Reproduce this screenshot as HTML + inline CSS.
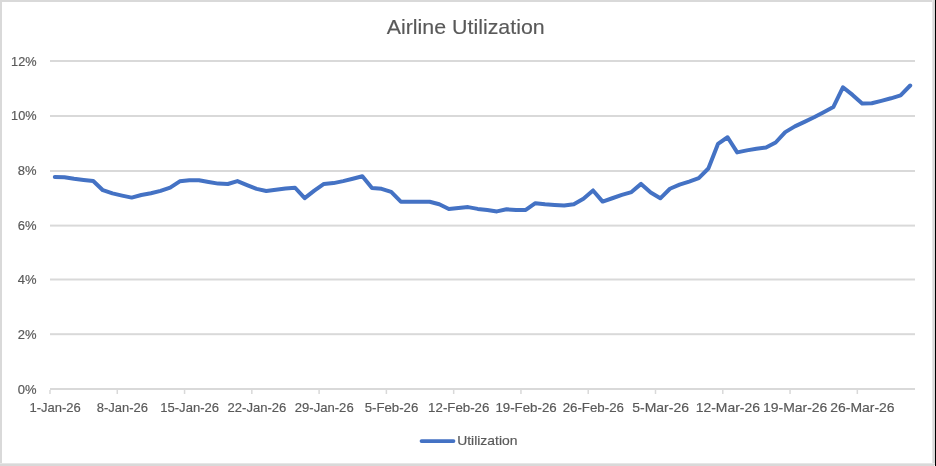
<!DOCTYPE html>
<html><head><meta charset="utf-8"><style>
html,body{margin:0;padding:0;background:#fff;}
body{width:936px;height:466px;overflow:hidden;position:relative;}
svg{position:absolute;left:0;top:0;display:block;will-change:transform;}
text{font-family:"Liberation Sans",sans-serif;fill:#595959;}
</style></head><body>
<svg width="936" height="466" viewBox="0 0 936 466">
<rect x="0" y="0" width="936" height="466" fill="#ffffff"/>
<rect x="0" y="0" width="936" height="2" fill="#d9d9d9"/>
<rect x="0" y="0" width="2" height="466" fill="#d9d9d9"/>
<rect x="932" y="0" width="1" height="466" fill="#e6e6e6"/>
<rect x="933" y="0" width="2" height="466" fill="#d9d9d9"/>
<rect x="0" y="463" width="935" height="1" fill="#e6e6e6"/>
<rect x="0" y="464" width="935" height="2" fill="#d9d9d9"/>
<rect x="935" y="0" width="1" height="466" fill="#000000"/>
<rect x="934" y="465" width="1" height="1" fill="#ffffff"/>
<rect x="50" y="60.00" width="865" height="2" fill="#d9d9d9"/><rect x="50" y="115.00" width="865" height="2" fill="#d9d9d9"/><rect x="50" y="170.00" width="865" height="2" fill="#d9d9d9"/><rect x="50" y="224.60" width="865" height="2" fill="#d9d9d9"/><rect x="50" y="278.50" width="865" height="2" fill="#d9d9d9"/><rect x="50" y="333.20" width="865" height="2" fill="#d9d9d9"/>
<rect x="50" y="388" width="865" height="2" fill="#d9d9d9"/>
<rect x="49.25" y="390" width="1.5" height="4" fill="#d9d9d9"/><rect x="116.53" y="390" width="1.5" height="4" fill="#d9d9d9"/><rect x="183.81" y="390" width="1.5" height="4" fill="#d9d9d9"/><rect x="251.08" y="390" width="1.5" height="4" fill="#d9d9d9"/><rect x="318.36" y="390" width="1.5" height="4" fill="#d9d9d9"/><rect x="385.64" y="390" width="1.5" height="4" fill="#d9d9d9"/><rect x="452.92" y="390" width="1.5" height="4" fill="#d9d9d9"/><rect x="520.19" y="390" width="1.5" height="4" fill="#d9d9d9"/><rect x="587.47" y="390" width="1.5" height="4" fill="#d9d9d9"/><rect x="654.75" y="390" width="1.5" height="4" fill="#d9d9d9"/><rect x="722.03" y="390" width="1.5" height="4" fill="#d9d9d9"/><rect x="789.31" y="390" width="1.5" height="4" fill="#d9d9d9"/><rect x="856.58" y="390" width="1.5" height="4" fill="#d9d9d9"/>
<text x="386.7" y="34.2" font-size="21" stroke="#595959" stroke-width="0.15" textLength="158" lengthAdjust="spacingAndGlyphs">Airline Utilization</text>
<g font-size="13.5" stroke="#595959" stroke-width="0.18"><text x="36.6" y="65.60" text-anchor="end" textLength="25.5" lengthAdjust="spacingAndGlyphs">12%</text><text x="36.6" y="120.27" text-anchor="end" textLength="25.5" lengthAdjust="spacingAndGlyphs">10%</text><text x="36.6" y="174.93" text-anchor="end" textLength="18.8" lengthAdjust="spacingAndGlyphs">8%</text><text x="36.6" y="229.60" text-anchor="end" textLength="18.8" lengthAdjust="spacingAndGlyphs">6%</text><text x="36.6" y="284.27" text-anchor="end" textLength="18.8" lengthAdjust="spacingAndGlyphs">4%</text><text x="36.6" y="338.93" text-anchor="end" textLength="18.8" lengthAdjust="spacingAndGlyphs">2%</text><text x="36.6" y="393.60" text-anchor="end" textLength="18.8" lengthAdjust="spacingAndGlyphs">0%</text><text x="55.11" y="412.4" text-anchor="middle" textLength="51.3" lengthAdjust="spacingAndGlyphs">1-Jan-26</text><text x="122.38" y="412.4" text-anchor="middle" textLength="51.3" lengthAdjust="spacingAndGlyphs">8-Jan-26</text><text x="189.66" y="412.4" text-anchor="middle" textLength="58.9" lengthAdjust="spacingAndGlyphs">15-Jan-26</text><text x="256.94" y="412.4" text-anchor="middle" textLength="58.9" lengthAdjust="spacingAndGlyphs">22-Jan-26</text><text x="324.22" y="412.4" text-anchor="middle" textLength="58.9" lengthAdjust="spacingAndGlyphs">29-Jan-26</text><text x="391.49" y="412.4" text-anchor="middle" textLength="53.7" lengthAdjust="spacingAndGlyphs">5-Feb-26</text><text x="458.77" y="412.4" text-anchor="middle" textLength="61.3" lengthAdjust="spacingAndGlyphs">12-Feb-26</text><text x="526.05" y="412.4" text-anchor="middle" textLength="61.3" lengthAdjust="spacingAndGlyphs">19-Feb-26</text><text x="593.33" y="412.4" text-anchor="middle" textLength="61.3" lengthAdjust="spacingAndGlyphs">26-Feb-26</text><text x="660.61" y="412.4" text-anchor="middle" textLength="56.7" lengthAdjust="spacingAndGlyphs">5-Mar-26</text><text x="727.88" y="412.4" text-anchor="middle" textLength="64.3" lengthAdjust="spacingAndGlyphs">12-Mar-26</text><text x="795.16" y="412.4" text-anchor="middle" textLength="64.3" lengthAdjust="spacingAndGlyphs">19-Mar-26</text><text x="862.44" y="412.4" text-anchor="middle" textLength="64.3" lengthAdjust="spacingAndGlyphs">26-Mar-26</text></g>
<polyline points="54.81,177.10 64.42,177.20 74.03,178.80 83.64,179.90 93.25,181.00 102.86,190.20 112.47,193.40 122.08,195.60 131.69,197.60 141.31,195.00 150.92,193.20 160.53,190.90 170.14,187.70 179.75,181.30 189.36,180.20 198.97,180.25 208.58,182.00 218.19,183.60 227.81,184.00 237.42,181.10 247.03,185.10 256.64,188.90 266.25,191.00 275.86,189.80 285.47,188.50 295.08,187.75 304.69,198.20 314.31,190.70 323.92,183.95 333.53,183.10 343.14,181.10 352.75,178.75 362.36,176.30 371.97,188.10 381.58,188.80 391.19,191.90 400.81,201.70 410.42,201.70 420.03,201.70 429.64,201.70 439.25,204.20 448.86,209.00 458.47,208.00 468.08,207.10 477.69,208.90 487.31,209.95 496.92,211.40 506.53,209.30 516.14,209.95 525.75,209.95 535.36,203.15 544.97,204.35 554.58,204.95 564.19,205.45 573.81,204.15 583.42,198.70 593.03,190.45 602.64,201.60 612.25,198.25 621.86,194.95 631.47,192.05 641.08,183.90 650.69,192.55 660.31,198.30 669.92,188.75 679.53,184.70 689.14,181.60 698.75,178.20 708.36,168.50 717.97,143.90 727.58,137.25 737.19,152.40 746.81,150.35 756.42,148.80 766.03,147.50 775.64,142.50 785.25,132.10 794.86,126.35 804.47,121.85 814.08,117.25 823.69,112.25 833.31,107.10 842.92,87.30 852.53,94.90 862.14,103.60 871.75,103.30 881.36,100.90 890.97,98.30 900.58,95.45 910.19,85.50" fill="none" stroke="#4472c4" stroke-width="4" stroke-linejoin="round" stroke-linecap="round"/>
<line x1="421.5" y1="441" x2="453.5" y2="441" stroke="#4472c4" stroke-width="3.75" stroke-linecap="round"/>
<text x="457.2" y="444.7" font-size="13.2" stroke="#595959" stroke-width="0.18" textLength="60.3" lengthAdjust="spacingAndGlyphs">Utilization</text>
</svg>
</body></html>
